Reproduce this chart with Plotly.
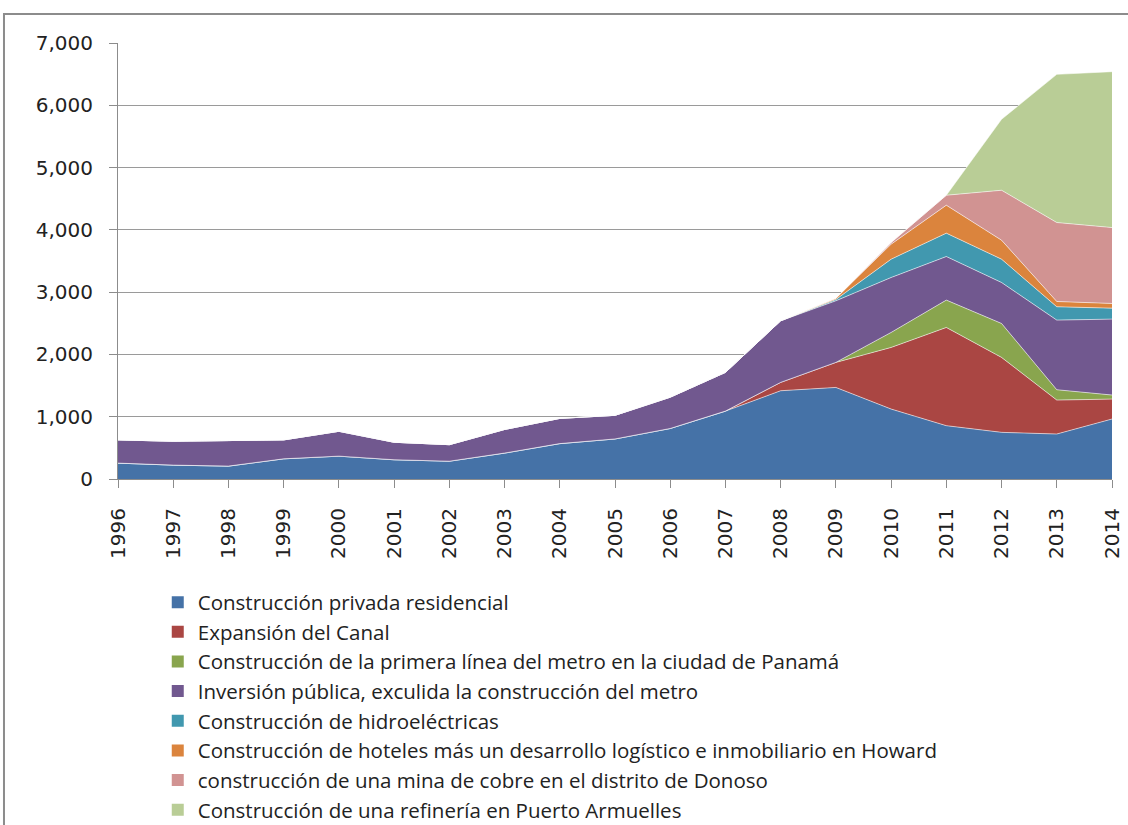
import plotly.graph_objects as go

years = [str(y) for y in range(1996, 2015)]

residencial = [255, 223, 207, 324, 367, 309, 286, 416, 568, 643, 811, 1090, 1417, 1470, 1123, 856, 749, 722, 963]
canal = [0, 0, 0, 0, 0, 0, 0, 0, 0, 0, 0, 0, 134, 402, 989, 1577, 1203, 545, 320]
metro = [0, 0, 0, 0, 0, 0, 0, 0, 0, 0, 0, 0, 0, 0, 241, 439, 545, 166, 65]
publica = [373, 383, 410, 304, 399, 281, 265, 379, 405, 379, 503, 622, 989, 989, 882, 700, 658, 1118, 1219]
hidro = [0, 0, 0, 0, 0, 0, 0, 0, 0, 0, 0, 0, 0, 20, 294, 375, 374, 214, 176]
howard = [0, 0, 0, 0, 0, 0, 0, 0, 0, 0, 0, 0, 0, 20, 241, 449, 305, 85, 75]
mina = [0, 0, 0, 0, 0, 0, 0, 0, 0, 0, 0, 0, 0, 0, 27, 160, 802, 1268, 1219]
refineria = [0, 0, 0, 0, 0, 0, 0, 0, 0, 0, 0, 0, 0, 0, 0, 0, 1139, 2379, 2503]

series = [
    ("Construcción privada residencial", residencial, "#4572A7"),
    ("Expansión del Canal", canal, "#AA4643"),
    ("Construcción de la primera línea del metro en la ciudad de Panamá", metro, "#89A54E"),
    ("Inversión pública, exculida la construcción del metro", publica, "#71588F"),
    ("Construcción de hidroeléctricas", hidro, "#4198AF"),
    ("Construcción de hoteles más un desarrollo logístico e inmobiliario en Howard", howard, "#DB843D"),
    ("construcción de una mina de cobre en el distrito de Donoso", mina, "#D19392"),
    ("Construcción de una refinería en Puerto Armuelles", refineria, "#B9CD96"),
]

fig = go.Figure()
for name, vals, color in series:
    fig.add_trace(go.Scatter(
        x=years, y=vals, name=name, mode="lines", stackgroup="one",
        line=dict(width=1, color="rgba(255,255,255,0.55)"),
        fillcolor=color, showlegend=False, hoverinfo="x+y+name",
    ))
for name, vals, color in series:
    fig.add_trace(go.Scatter(
        x=[None], y=[None], name=name, mode="markers",
        marker=dict(symbol="square", size=13, color=color),
        showlegend=True,
    ))

fig.update_layout(
    width=1128, height=825,
    paper_bgcolor="white", plot_bgcolor="white",
    margin=dict(l=118, r=16, t=43, b=346, autoexpand=False),
    font=dict(family="DejaVu Sans", color="#222222"),
    showlegend=True,
    legend=dict(
        x=0.040, y=-0.237, xanchor="left", yanchor="top",
        traceorder="normal",
        font=dict(family="Open Sans", size=20.5, color="#222222"),
        itemsizing="constant", tracegroupgap=0,
        bgcolor="rgba(0,0,0,0)",
    ),
    shapes=[dict(
        type="rect", xref="paper", yref="paper",
        x0=-0.1147, x1=1.03, y0=-0.95, y1=1.0665,
        line=dict(color="#8c8c8c", width=2), fillcolor="rgba(0,0,0,0)", layer="below",
    )],
)

fig.update_xaxes(
    type="category", range=[0, 18], showgrid=False, automargin=False,
    showline=True, linecolor="#8c8c8c", linewidth=1,
    ticks="outside", ticklen=8, tickcolor="#8c8c8c",
    tickangle=-90, tickfont=dict(family="DejaVu Sans", size=20, color="#222222"),
    ticklabelstandoff=12,
    zeroline=False,
)
fig.update_yaxes(
    range=[0, 7000], dtick=1000, tickformat=",d", automargin=False,
    showgrid=True, gridcolor="#9a9a9a", gridwidth=1,
    showline=True, linecolor="#8c8c8c", linewidth=1,
    ticks="outside", ticklen=8, tickcolor="#8c8c8c",
    tickfont=dict(family="DejaVu Sans", size=20, color="#222222"),
    ticklabelstandoff=12,
    zeroline=False,
)

fig.write_html("out.html", config={"displayModeBar": False},
               post_script="document.body.style.margin='0';")
